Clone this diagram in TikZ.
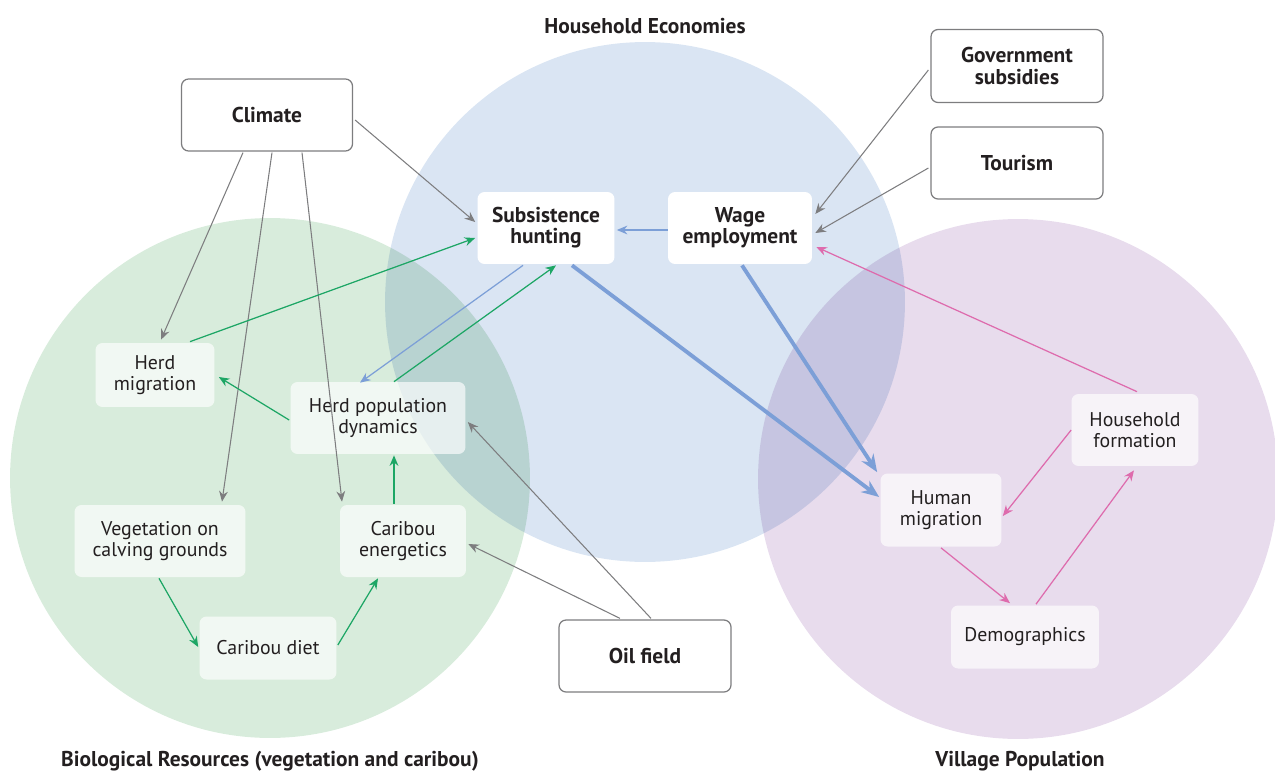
\documentclass[tikz,border=0pt]{standalone}
\usepackage{fontspec}
\setmainfont{PT Sans}
\usetikzlibrary{arrows.meta,calc}

\definecolor{econblue}{HTML}{DAE5F3}
\definecolor{biogreen}{HTML}{D8ECDC}
\definecolor{villpurple}{HTML}{E8DCED}
\definecolor{linegrey}{HTML}{7D7D7F}
\definecolor{arrgreen}{HTML}{1DA665}
\definecolor{arrblue}{HTML}{7C9FD7}
\definecolor{arrpink}{HTML}{DE6BAD}
\definecolor{inktext}{HTML}{231F20}

\begin{document}
\begin{tikzpicture}[x=0.02cm,y=-0.02cm,
  every node/.style={text=inktext},
  outbox/.style={draw=linegrey,line width=0.7pt,rounded corners=4pt,fill=white,
    align=center,inner sep=0pt,font=\fontsize{12.2}{12}\selectfont\bfseries},
  keybox/.style={fill=white,rounded corners=4pt,align=center,inner sep=0pt,
    font=\fontsize{12.2}{12}\selectfont\bfseries},
  softbox/.style={fill=white,fill opacity=0.66,text opacity=1,rounded corners=4pt,
    align=center,inner sep=0pt,font=\fontsize{11.3}{12}\selectfont},
  setlabel/.style={font=\fontsize{12.2}{12}\selectfont\bfseries},
  greyarr/.style={draw=linegrey,line width=0.6pt,-{Stealth[length=6pt,width=5pt]}},
  greenarr/.style={draw=arrgreen,line width=0.7pt,-{Stealth[length=6pt,width=5pt]}},
  bluearr/.style={draw=arrblue,line width=0.7pt,-{Stealth[length=6pt,width=5pt]}},
  thickarr/.style={draw=arrblue,line width=2.2pt,-{Stealth[length=10pt,width=8pt]}},
  pinkarr/.style={draw=arrpink,line width=0.7pt,-{Stealth[length=6pt,width=5pt]}}]

\useasboundingbox (0,0) rectangle (1275,771);

% the three sets
\begin{scope}[blend mode=multiply]
\fill[econblue] (645,302) circle (5.2cm);
\fill[biogreen] (270,478) circle (5.2cm);
\fill[villpurple] (1018,479) circle (5.2cm);
\end{scope}

\node[setlabel] (econlab) at (645,26) {Household Economies};
\node[setlabel] (biolab) at (270,761) {Biological Resources (vegetation and caribou)};
\node[setlabel] (villlab) at (1020,761) {Village Population};

% drivers
\node[outbox,minimum width=3.42cm,minimum height=1.44cm] (clim) at (267,115) {Climate};
\node[outbox,minimum width=3.44cm,minimum height=1.46cm] (gov) at (1017,66) {Government\\subsidies};
\node[outbox,minimum width=3.44cm,minimum height=1.44cm] (tour) at (1017,163) {Tourism};
\node[outbox,minimum width=3.44cm,minimum height=1.44cm] (oil) at (645,656) {Oil field};

% household economies
\node[keybox,minimum width=2.74cm,minimum height=1.44cm] (subs) at (546,228) {Subsistence\\hunting};
\node[keybox,minimum width=2.88cm,minimum height=1.44cm] (wage) at (740,228) {Wage\\employment};

% biological resources
\node[softbox,minimum width=2.38cm,minimum height=1.28cm] (hmig) at (155,375) {Herd\\migration};
\node[softbox,minimum width=3.50cm,minimum height=1.44cm] (hpop) at (378,418) {Herd population\\dynamics};
\node[softbox,minimum width=3.42cm,minimum height=1.44cm] (veg) at (160,541) {Vegetation on\\calving grounds};
\node[softbox,minimum width=2.52cm,minimum height=1.44cm] (cen) at (403,541) {Caribou\\energetics};
\node[softbox,minimum width=2.74cm,minimum height=1.26cm] (diet) at (268,648) {Caribou diet};

% village population
\node[softbox,minimum width=2.42cm,minimum height=1.46cm] (humig) at (941,510) {Human\\migration};
\node[softbox,minimum width=2.54cm,minimum height=1.44cm] (hform) at (1135,430) {Household\\formation};
\node[softbox,minimum width=2.96cm,minimum height=1.26cm] (demo) at (1025,637) {Demographics};

% grey links
\draw[greyarr] ($(clim.east)+(2,5)$) -- ($(subs.west)+(-2,-6)$);
\draw[greyarr] ($(clim.south)+(-24,1)$) -- ($(hmig.north)+(6,-3)$);
\draw[greyarr] ($(clim.south)+(5,1)$) -- ($(veg.north)+(62,-3)$);
\draw[greyarr] ($(clim.south)+(35,1)$) -- ($(cen.north)+(-61,-3)$);
\draw[greyarr] ($(gov.west)+(-2,4)$) -- ($(wage.east)+(3,-14)$);
\draw[greyarr] ($(tour.west)+(-2,5)$) -- ($(wage.east)+(3,5)$);
\draw[greyarr] ($(oil.north)+(6,-1)$) -- ($(hpop.east)+(2,4)$);
\draw[greyarr] ($(oil.north)+(-25,-1)$) -- ($(cen.east)+(2,3)$);

% green links
\draw[greenarr] ($(hmig.north)+(35,-1)$) -- ($(subs.west)+(-2,10)$);
\draw[greenarr] ($(hpop.north)+(16,0)$) -- ($(subs.south)+(10,1)$);
\draw[greenarr] ($(hpop.west)+(-1,2)$) -- ($(hmig.east)+(4,2)$);
\draw[greenarr] ($(cen.north)+(-9,-1)$) -- ($(hpop.south)+(16,1)$);
\draw[greenarr] ($(veg.south)+(-1,1)$) -- ($(diet.west)+(-1,-1)$);
\draw[greenarr] ($(diet.east)+(1,-3)$) -- ($(cen.south)+(-25,1)$);

% blue links
\draw[bluearr] ($(wage.west)+(0,2)$) -- ($(subs.east)+(2,2)$);
\draw[bluearr] ($(subs.south)+(-23,1)$) -- ($(hpop.north)+(-18,1)$);
\draw[thickarr] ($(subs.south)+(26,1)$) -- ($(humig.west)+(-1,-13)$);
\draw[thickarr] ($(wage.south)+(2,1)$) -- ($(humig.north west)+(-3,-1)$);

% pink links
\draw[pinkarr] ($(hform.north)+(2,-2)$) -- ($(wage.east)+(4,19)$);
\draw[pinkarr] (hform.west) -- ($(humig.east)+(1,6)$);
\draw[pinkarr] ($(humig.south)+(0,1)$) -- ($(demo.north)+(-15,-2)$);
\draw[pinkarr] ($(demo.north)+(11,-1)$) -- ($(hform.south)+(-1,4)$);
\end{tikzpicture}
\end{document}
